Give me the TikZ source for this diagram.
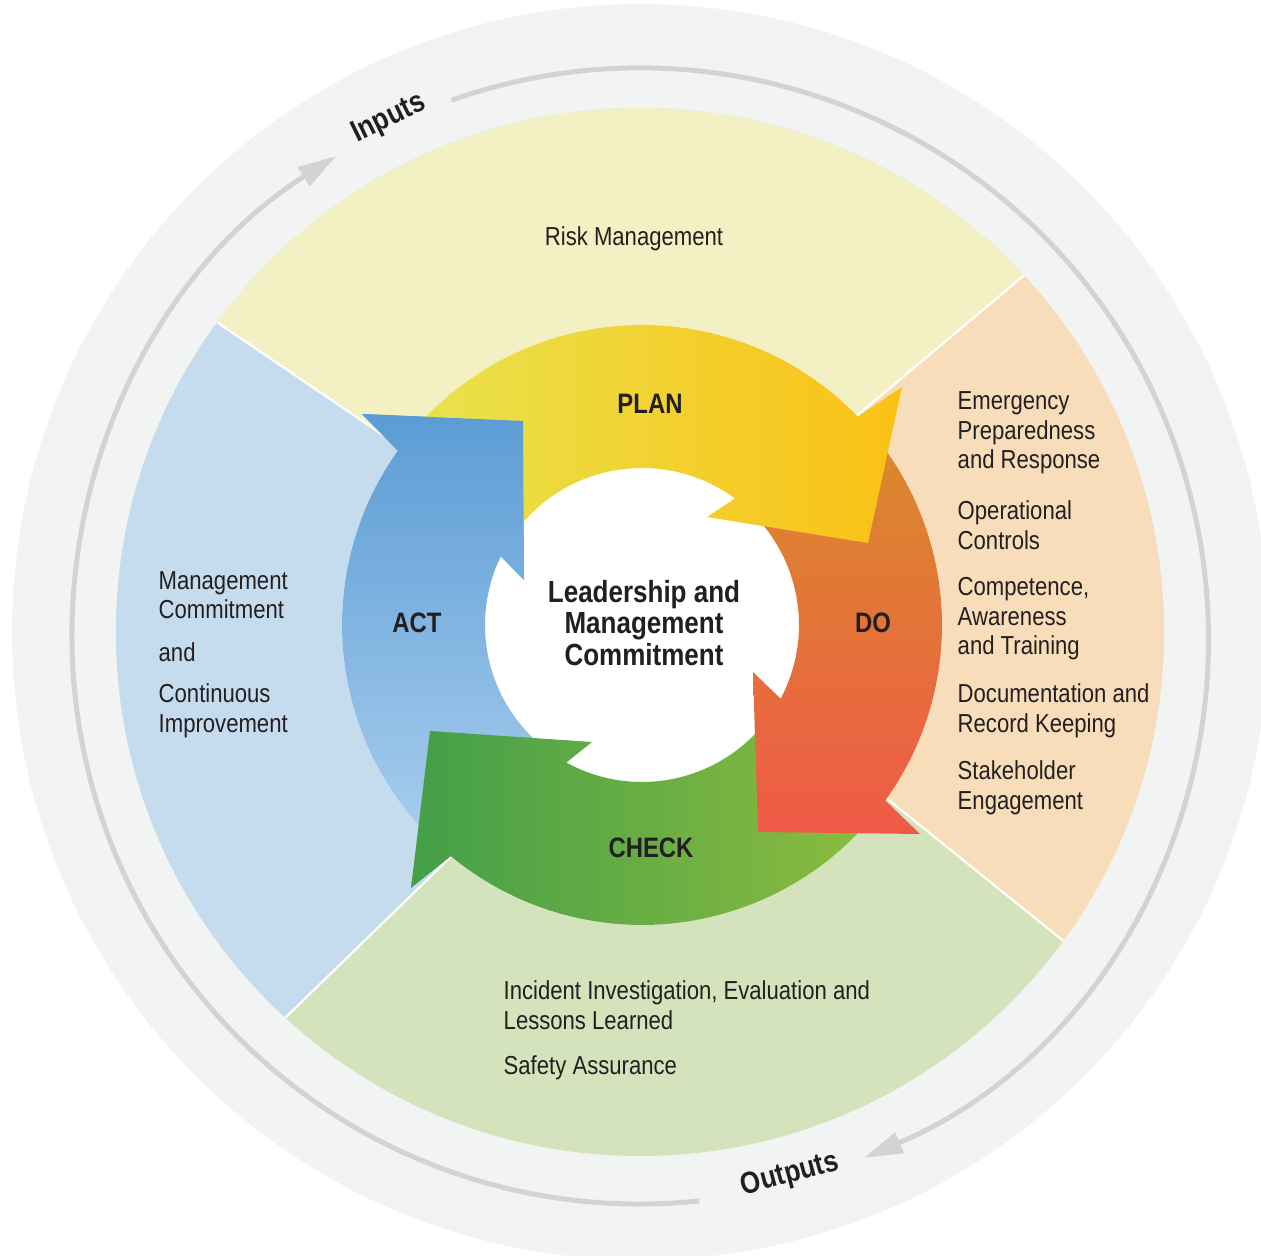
\documentclass[tikz,border=0pt]{standalone}
\usepackage{fontspec}
\setmainfont{Liberation Sans}[FakeStretch=0.85]
\usetikzlibrary{arrows.meta}

\definecolor{bandgray}{HTML}{F2F3F3}
\definecolor{flowgray}{HTML}{D2D3D5}
\definecolor{riskyel}{HTML}{F3F0C4}
\definecolor{impblue}{HTML}{C5DCEF}
\definecolor{opspeach}{HTML}{F8DDBA}
\definecolor{assgreen}{HTML}{D5E3BC}
\definecolor{ink}{HTML}{231F20}
\definecolor{planL}{HTML}{E8E34E}
\definecolor{planR}{HTML}{FBC115}
\definecolor{doT}{HTML}{D98B2B}
\definecolor{doB}{HTML}{EF5A47}
\definecolor{checkL}{HTML}{449F48}
\definecolor{checkR}{HTML}{8CBC3F}
\definecolor{actT}{HTML}{5B9CD5}
\definecolor{actB}{HTML}{A9CEEE}

% act arrow outline, drawn twice (body, then head on top)
\newcommand{\actshape}{(228:300) arc[start angle=228, end angle=144.5, radius=300]
  -- (-280,211) -- (-119,204) -- (-118,45)
  -- (154.1:157) arc[start angle=154.1, end angle=228, radius=157] -- cycle}

\begin{document}
\begin{tikzpicture}[x=0.1mm, y=0.1mm,
  flow/.style={flowgray, line width=0.5mm, -{Triangle[length=3.9mm, width=2.15mm]}},
  seam/.style={white, line width=0.6pt},
  item/.style={font=\fontsize{7.4}{8.4}\selectfont, text=ink, inner sep=0pt, align=left, anchor=west},
  stage/.style={font=\bfseries\fontsize{8}{9}\selectfont, text=ink, inner sep=0pt},
  io/.style={font=\bfseries\fontsize{8.7}{9}\selectfont, text=ink, inner sep=0pt, align=center}]
\useasboundingbox (0,0) rectangle (1261,1255);
\clip (0,0) rectangle (1261,1255);

% outer band and inputs/outputs flow
\fill[bandgray] (640,623) circle[radius=628];
\begin{scope}[shift={(640,619)}]
\draw[flow] (-84:568) arc[start angle=-84, end angle=-237.7, radius=568];
\draw[flow] (109.4:568) arc[start angle=109.4, end angle=-66.8, radius=568];
\end{scope}

% the four element sectors
\begin{scope}
\clip (640,623) circle[radius=524];
\fill[assgreen] (640,623) circle[radius=524];
\fill[riskyel] (642,644) -- (-100,1148) -- (-100,1500) -- (1400,1500) -- (1307,1217) -- (642,659) -- cycle;
\fill[impblue] (642,644) -- (-100,1148) -- (-108,-145) -- (642,584) -- cycle;
\fill[opspeach] (642,659) -- (1307,1217) -- (1382,57) -- (642,654) -- cycle;
\draw[seam] (642,644) -- (-100,1148);
\draw[seam] (642,659) -- (1307,1217);
\draw[seam] (642,654) -- (1382,57);
\draw[seam] (642,584) -- (-108,-145);
\end{scope}

% hub
\fill[white] (642,630) circle[radius=300];

% cycle arrows
\begin{scope}[shift={(642,630)}]
\path[top color=actT, bottom color=actB] \actshape;
\path[left color=checkL, right color=checkR] (-39.3:300) arc[start angle=-39.3, end angle=-129.6, radius=300]
  -- (-231,-263) -- (-212,-106) -- (-50,-117)
  -- (-118.8:157) arc[start angle=-118.8, end angle=-39.3, radius=157] -- cycle;
\path[top color=doT, bottom color=doB] (40.5:300) arc[start angle=40.5, end angle=-35.8, radius=300]
  -- (278,-209) -- (116,-207) -- (111,-47)
  -- (-28:157) arc[start angle=-28, end angle=40.5, radius=157] -- cycle;
\path[left color=planL, right color=planR] (141:300) arc[start angle=141, end angle=44, radius=300]
  -- (260,238) -- (226,82) -- (65,108)
  -- (53.7:157) arc[start angle=53.7, end angle=141, radius=157] -- cycle;
\begin{scope}
\clip (-280,211) -- (-119,204) -- (-118,45) -- cycle;
\path[top color=actT, bottom color=actB] \actshape;
\end{scope}
\end{scope}

% labels
\node[stage] (plan) at (650,851) {PLAN};
\node[stage] (do) at (873,632) {DO};
\node[stage] (check) at (651,407) {CHECK};
\node[stage] (act) at (417,632) {ACT};
\node[io] (lead) at (644,632) {Leadership and\\Management\\Commitment};
\node[io, rotate=26] (inputs) at (389,1136) {Inputs};
\node[io, rotate=15] (outputs) at (790,80) {Outputs};

\node[item, anchor=center] (risk) at (634,1016) {Risk Management};

\node[item] (mgmt) at (158,660) {Management\\Commitment};
\node[item] (andw) at (158,603) {and};
\node[item] (impr) at (158,544) {Continuous\\Improvement};

\node[item] (emer) at (957,822) {Emergency\\Preparedness\\and Response};
\node[item] (opctl) at (957,730) {Operational\\Controls};
\node[item] (comp) at (957,636) {Competence,\\Awareness\\and Training};
\node[item] (docs) at (957,544) {Documentation and\\Record Keeping};
\node[item] (stake) at (957,467) {Stakeholder\\Engagement};

\node[item] (incid) at (503,250) {Incident Investigation, Evaluation and\\Lessons Learned};
\node[item] (safe) at (503,187) {Safety Assurance};
\end{tikzpicture}
\end{document}
